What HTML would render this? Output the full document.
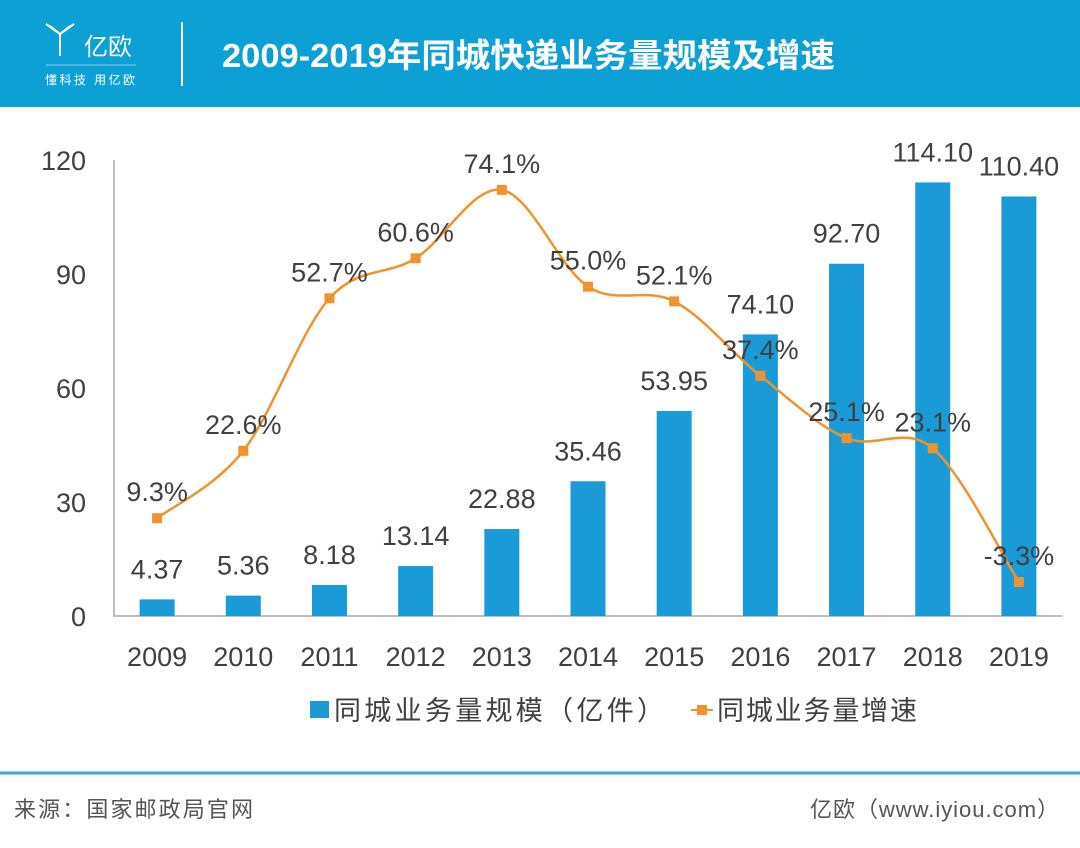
<!DOCTYPE html>
<html><head><meta charset="utf-8">
<style>
body{margin:0;width:1080px;height:843px;background:#fff;overflow:hidden;font-family:"Liberation Sans","Noto Sans CJK SC",sans-serif;}
svg text{font-family:"Liberation Sans","Noto Sans CJK SC",sans-serif;}
</style></head><body>
<svg id="c" width="1080" height="843" xmlns="http://www.w3.org/2000/svg">
  <rect x="0" y="0" width="1080" height="107" fill="#0ca0d5"/>
  <g fill="none" stroke="#fff" stroke-width="2">
    <path d="M46 24 L60 34 L74 24 M50 26 L60 34 M70 26 L60 34 M60 34 L60 56"/>
    <line x1="46" y1="65" x2="136" y2="65" stroke-width="1" stroke="#8fd3ee"/>
  </g>
  <text x="84" y="55" fill="#fff" font-size="24">亿欧</text>
  <text x="45" y="84" fill="#fff" font-size="12" textLength="90">懂科技 用亿欧</text>
  <line x1="182" y1="22" x2="182" y2="86" stroke="#fff" stroke-width="2"/>
  <text x="222" y="67" fill="#fff" font-size="33" font-weight="bold" textLength="613" lengthAdjust="spacingAndGlyphs">2009-2019年同城快递业务量规模及增速</text>
  <g id="plot"></g>
  <g>
    <rect x="310" y="701" width="19" height="17" fill="#1a9ad6"/>
    <text x="334" y="720" font-size="27" fill="#404040" textLength="330">同城业务量规模（亿件）</text>
    <line x1="691" y1="710" x2="713" y2="710" stroke="#f0922e" stroke-width="2"/>
    <rect x="697" y="705" width="10" height="10" fill="#f0922e"/>
    <text x="717" y="720" font-size="27" fill="#404040" textLength="200">同城业务量增速</text>
  </g>
  <line x1="0" y1="773" x2="1080" y2="773" stroke="#3aa9d6" stroke-width="3"/>
  <text x="14" y="817" font-size="22" fill="#555" textLength="239">来源：国家邮政局官网</text>
  <text x="810" y="817" font-size="22" fill="#555" textLength="249">亿欧（www.iyiou.com）</text>
</svg>
<script>
const years=["2009","2010","2011","2012","2013","2014","2015","2016","2017","2018","2019"];
const volumes=[4.37,5.36,8.18,13.14,22.88,35.46,53.95,74.10,92.70,114.10,110.40];
const volumeLabels=["4.37","5.36","8.18","13.14","22.88","35.46","53.95","74.10","92.70","114.10","110.40"];
const growth=[9.3,22.6,52.7,60.6,74.1,55.0,52.1,37.4,25.1,23.1,-3.3];
const growthLabels=["9.3%","22.6%","52.7%","60.6%","74.1%","55.0%","52.1%","37.4%","25.1%","23.1%","-3.3%"];
const yTicks=[0,30,60,90,120];

const NS="http://www.w3.org/2000/svg";
const g=document.getElementById('plot');
const x0=114,x1=1062,yb=616,yt=160;
const step=(x1-x0)/years.length;
const X=i=>x0+step*(i+0.5);
const Y=v=>yb-(v/120)*(yb-yt);
const Y2=v=>yb-((v+10)/90)*(yb-yt);
function el(t,a){const e=document.createElementNS(NS,t);for(const k in a)e.setAttribute(k,a[k]);g.appendChild(e);return e;}
function txt(s,a){const e=el('text',a);e.textContent=s;return e;}

yTicks.forEach(v=>{
  const t=txt(String(v),{x:86,y:Y(v)+10,'font-size':27,fill:'#404040','text-anchor':'end'});
  
  
});
const ax=el('path',{d:`M${x0} ${yt} L${x0} ${yb} L${x1} ${yb}`,stroke:'#bfbfbf','stroke-width':2,fill:'none'});



years.forEach((yr,i)=>{
  const bw=35;
  const r=el('rect',{x:X(i)-bw/2,y:Y(volumes[i]),width:bw,height:yb-Y(volumes[i]),fill:'#1a9ad6'});
  
  
  const l=txt(volumeLabels[i],{x:X(i),y:Y(volumes[i])-21,'font-size':27,fill:'#404040','text-anchor':'middle'});
  
  
  const xl=txt(yr,{x:X(i),y:666,'font-size':27,fill:'#404040','text-anchor':'middle'});
  
  
});

const pts=growth.map((v,i)=>[X(i),Y2(v)]);
let d=`M${pts[0][0]} ${pts[0][1]}`;
for(let i=0;i<pts.length-1;i++){
  const p0=pts[Math.max(0,i-1)],p1=pts[i],p2=pts[i+1],p3=pts[Math.min(pts.length-1,i+2)];
  const k=1/6;
  d+=` C${p1[0]+(p2[0]-p0[0])*k} ${p1[1]+(p2[1]-p0[1])*k} ${p2[0]-(p3[0]-p1[0])*k} ${p2[1]-(p3[1]-p1[1])*k} ${p2[0]} ${p2[1]}`;
}
const ln=el('path',{d:d,stroke:'#f0922e','stroke-width':2.5,fill:'none'});


pts.forEach((p,i)=>{
  const m=el('rect',{x:p[0]-5,y:p[1]-5,width:10,height:10,fill:'#f0922e'});
  
  
  const l=txt(growthLabels[i],{x:p[0],y:p[1]-17,'font-size':27,fill:'#404040','text-anchor':'middle'});
  
  
});
</script>
</body></html>
